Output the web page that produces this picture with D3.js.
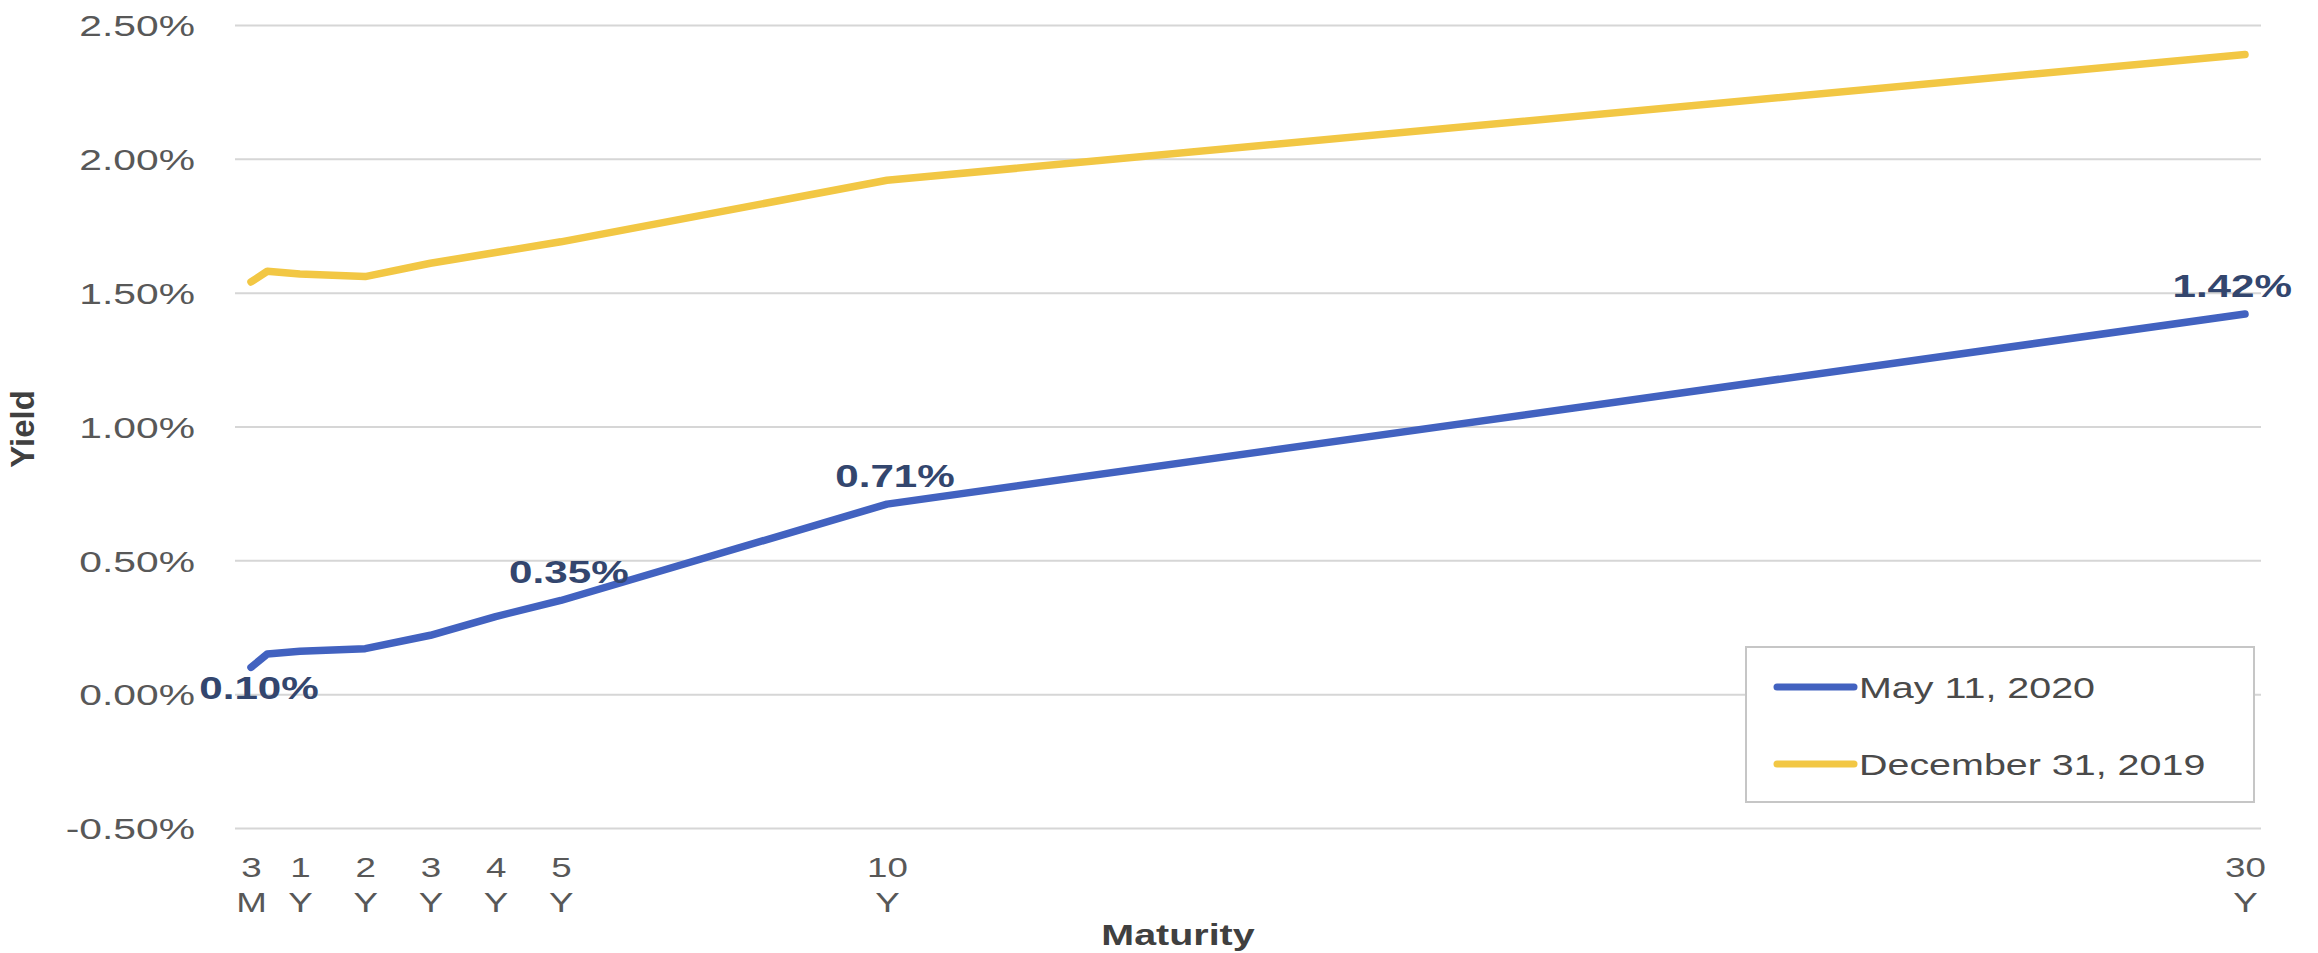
<!DOCTYPE html>
<html>
<head>
<meta charset="utf-8">
<script src="https://cdn.jsdelivr.net/npm/d3@7"></script>
<style>
  html, body { margin: 0; padding: 0; background: #fff; }
  svg { display: block; font-family: "Liberation Sans", Arial, sans-serif; }
</style>
</head>
<body>
<svg id="chart" width="2318" height="953"></svg>
<script>
// Treasury yield curves (%), by maturity in years
const maturities = [0.25, 0.5, 1, 2, 3, 4, 5, 10, 30];
const may2020 = [0.10, 0.15, 0.16, 0.17, 0.22, 0.29, 0.35, 0.71, 1.42];
const dec2019 = [1.54, 1.58, 1.57, 1.56, 1.61, 1.65, 1.69, 1.92, 2.39];
const seriesNames = ["May 11, 2020", "December 31, 2019"];

// Axis ticks
const tickMaturities = [0.25, 1, 2, 3, 4, 5, 10, 30];
const tickNumbers = ["3", "1", "2", "3", "4", "5", "10", "30"];
const tickUnits = ["M", "Y", "Y", "Y", "Y", "Y", "Y", "Y"];
const yTicks = [-0.5, 0, 0.5, 1, 1.5, 2, 2.5];

// Points of the May 2020 curve that carry a value label
const labelledMaturities = [0.25, 5, 10, 30];

// ---- layout ----
const SX = 1.36;               // horizontal stretch applied to the text
const plotLeft = 235, plotRight = 2261;
const plotTop = 25, plotBottom = 828;
const colors = ["#4262c0", "#f2c744"];
const series = [may2020, dec2019];

const svg = d3.select("#chart");

const x = d3.scaleLinear()
  .domain([0.25, 10, 30])
  .range([251, 887, 2245]);
const y = d3.scaleLinear()
  .domain([-0.5, 2.5])
  .range([plotBottom, plotTop]);

// y axis with full-width gridlines
const yAxis = svg.append("g")
  .attr("transform", `translate(${plotLeft},0)`)
  .call(d3.axisLeft(y)
    .tickValues(yTicks)
    .tickSize(-(plotRight - plotLeft))
    .tickFormat(d => d.toFixed(2) + "%"));
yAxis.select(".domain").remove();
yAxis.selectAll(".tick line")
  .attr("stroke", "#d6d6d6")
  .attr("stroke-width", 2);
yAxis.selectAll(".tick text")
  .attr("x", 0)
  .attr("dy", "0.36em")
  .attr("transform", `translate(-40,0) scale(${SX},1)`)
  .attr("text-anchor", "end")
  .attr("fill", "#585858")
  .style("font-size", "30px");

// x axis with two-line maturity labels
const xAxis = svg.append("g")
  .attr("transform", `translate(0,${plotBottom})`)
  .call(d3.axisBottom(x)
    .tickValues(tickMaturities)
    .tickSize(0)
    .tickFormat(() => ""));
xAxis.select(".domain").remove();
xAxis.selectAll(".tick text").each(function (d, i) {
  const t = d3.select(this)
    .attr("y", 0)
    .attr("dy", null)
    .attr("transform", `scale(${SX},1)`)
    .attr("text-anchor", "middle")
    .attr("fill", "#585858")
    .style("font-size", "27px");
  t.append("tspan").attr("x", 0).attr("y", 49).text(tickNumbers[i]);
  t.append("tspan").attr("x", 0).attr("y", 84).text(tickUnits[i]);
});

// axis titles
svg.append("text")
  .attr("transform", `translate(1178,945) scale(${SX},1)`)
  .attr("text-anchor", "middle")
  .attr("font-weight", "bold")
  .attr("fill", "#404040")
  .style("font-size", "29px")
  .text("Maturity");

svg.append("text")
  .attr("transform", "translate(34,429) rotate(-90)")
  .attr("text-anchor", "middle")
  .attr("font-weight", "bold")
  .attr("fill", "#404040")
  .style("font-size", "33px")
  .text("Yield");

// yield curves
const line = d3.line()
  .x((d, i) => x(maturities[i]))
  .y(d => y(d));

series.forEach((vals, k) => {
  svg.append("path")
    .datum(vals)
    .attr("fill", "none")
    .attr("stroke", colors[k])
    .attr("stroke-width", 7.5)
    .attr("stroke-linejoin", "round")
    .attr("stroke-linecap", "round")
    .attr("d", line);
});

// value labels on the May 2020 curve
labelledMaturities.forEach((m, j) => {
  const i = maturities.indexOf(m);
  const v = may2020[i];
  const px = x(m), py = y(v);
  const below = j === 0;
  const t = svg.append("text")
    .attr("text-anchor", "middle")
    .attr("font-weight", "bold")
    .attr("fill", "#33466e")
    .style("font-size", "31px")
    .text(v.toFixed(2) + "%");
  const w = t.node().getComputedTextLength() * SX;
  const cx = Math.min(px + 8, 2292 - w / 2);
  const cy = below ? py + 32 : py - 17;
  t.attr("transform", `translate(${cx},${cy}) scale(${SX},1)`);
});

// legend
const legend = svg.append("g");
legend.append("rect")
  .attr("x", 1746).attr("y", 647)
  .attr("width", 508).attr("height", 155)
  .attr("fill", "#fff")
  .attr("stroke", "#c6c6c6")
  .attr("stroke-width", 2);
seriesNames.forEach((name, k) => {
  const ly = 687 + k * 77;
  legend.append("line")
    .attr("x1", 1777).attr("x2", 1854)
    .attr("y1", ly).attr("y2", ly)
    .attr("stroke", colors[k])
    .attr("stroke-width", 7)
    .attr("stroke-linecap", "round");
  legend.append("text")
    .attr("transform", `translate(1859,${ly + 11}) scale(${SX},1)`)
    .attr("fill", "#4a4a4a")
    .style("font-size", "29px")
    .text(name);
});
</script>
</body>
</html>
